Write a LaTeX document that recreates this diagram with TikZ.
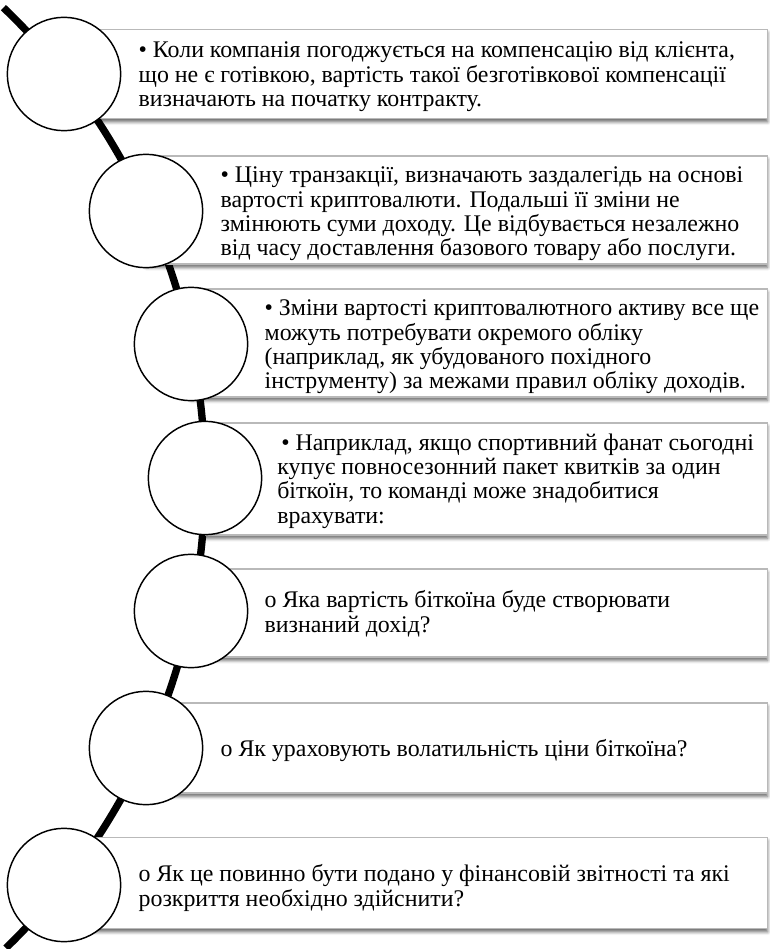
\documentclass[tikz,border=0pt]{standalone}
\usepackage{fontspec}
\setmainfont{Liberation Serif}
\usetikzlibrary{positioning,shadows.blur}

\tikzset{
  stage/.style={circle, draw=black, line width=1.1pt, fill=white,
    minimum size=85pt, inner sep=0pt},
  card/.style={draw=gray!55, line width=0.8pt, fill=white, anchor=west,
    inner sep=0pt, minimum width=703*0.75pt,
    blur shadow={shadow xshift=0pt, shadow yshift=-2.5pt,
      shadow blur radius=2.5pt, shadow opacity=60}},
  note/.style={align=left, inner sep=0pt, text=black, yshift=-2.2pt,
    font=\fontsize{17.9}{18.3}\selectfont},
  spine/.style={line width=5.5pt, black}
}

\begin{document}
\begin{tikzpicture}[x=0.75pt, y=-0.75pt]
  \useasboundingbox (0,0) rectangle (769,949);

  % backbone arc
  \coordinate (hub) at (-447,479);
  \draw[spine] (hub) ++(-46.3:652) arc[start angle=-46.3, end angle=46, radius=652];

  % cards
  \node[card, minimum height=89*0.75pt] (r1) at (64,74) {};
  \node[card, minimum height=108*0.75pt, minimum width=621*0.75pt] (r2) at (146,210) {};
  \node[card, minimum height=108*0.75pt, minimum width=576*0.75pt] (r3) at (191,343) {};
  \node[card, minimum height=112*0.75pt, minimum width=562*0.75pt] (r4) at (205,479) {};
  \node[card, minimum height=88*0.75pt, minimum width=576*0.75pt] (r5) at (191,613) {};
  \node[card, minimum height=90*0.75pt, minimum width=621*0.75pt] (r6) at (146,748) {};
  \node[card, minimum height=91*0.75pt] (r7) at (64,883) {};

  % circles
  \node[stage] (c1) at (64,74) {};
  \node[stage] (c2) at (146,211) {};
  \node[stage] (c3) at (191,344) {};
  \node[stage] (c4) at (205,478) {};
  \node[stage] (c5) at (191,611) {};
  \node[stage] (c6) at (146,748) {};
  \node[stage] (c7) at (64,885) {};

  % texts
  \node[note, right=12.75pt of c1] (t1) {• Коли компанія погоджується на компенсацію від клієнта,\\
    що не є готівкою, вартість такої безготівкової компенсації\\
    визначають на початку контракту.};
  \node[note, right=12.75pt of c2] (t2) {• Ціну транзакції, визначають заздалегідь на основі\\
    вартості криптовалюти. Подальші її зміни не\\
    змінюють суми доходу. Це відбувається незалежно\\
    від часу доставлення базового товару або послуги.};
  \node[note, right=12pt of c3] (t3) {• Зміни вартості криптовалютного активу все ще\\
    можуть потребувати окремого обліку\\
    (наприклад, як убудованого похідного\\
    інструменту) за межами правил обліку доходів.};
  \node[note, right=11pt of c4] (t4) {\hspace{3pt}• Наприклад, якщо спортивний фанат сьогодні\\
    купує повносезонний пакет квитків за один\\
    біткоїн, то команді може знадобитися\\
    врахувати:};
  \node[note, right=12pt of c5] (t5) {o Яка вартість біткоїна буде створювати\\
    визнаний дохід?};
  \node[note, right=12.75pt of c6] (t6) {o Як ураховують волатильність ціни біткоїна?};
  \node[note, right=12.75pt of c7] (t7) {o Як це повинно бути подано у фінансовій звітності та які\\
    розкриття необхідно здійснити?};
\end{tikzpicture}
\end{document}
